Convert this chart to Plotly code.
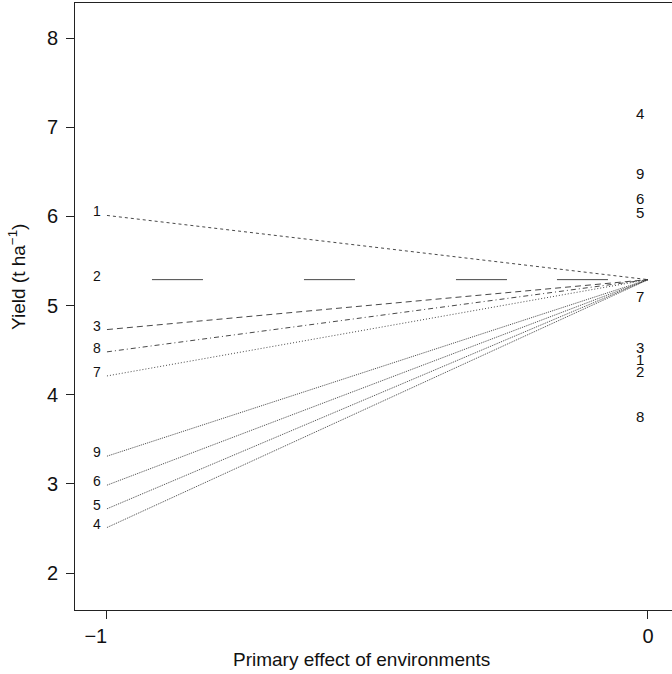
import plotly.graph_objects as go

genotypes = ["1", "2", "3", "4", "5", "6", "7", "8", "9"]
yield_at_minus1 = [6.01, 5.29, 4.73, 2.51, 2.72, 2.985, 4.21, 4.48, 3.31]
yield_at_0 = 5.29
x_points = [-1, 0]
right_labels = ["4", "9", "6", "5", "7", "3", "1", "2", "8"]
right_values = [7.15, 6.48, 6.20, 6.04, 5.10, 4.53, 4.40, 4.26, 3.755]
x_tick_vals = [-1, 0]
x_tick_text = ["\u22121\u2007\u2007", "0"]
y_tick_vals = [2, 3, 4, 5, 6, 7, 8]

dashes = {
    "1": "3px,3px",
    "2": "0px,45px,51px,101px,51px,101px,51px,50px,51px,200px",
    "3": "6px,4px",
    "4": "1px,1px",
    "5": "1px,1px",
    "6": "1px,1px",
    "7": "1px,2px",
    "8": "5px,3px,1px,3px",
    "9": "1px,1px",
}

fig = go.Figure()
for g, y0 in zip(genotypes, yield_at_minus1):
    fig.add_trace(go.Scatter(
        x=x_points, y=[y0, yield_at_0], mode="lines",
        line=dict(color="#333333", width=0.9, dash=dashes[g]),
        showlegend=False, hoverinfo="skip"))

annotations = []
for g, y0 in zip(genotypes, yield_at_minus1):
    annotations.append(dict(x=-1, y=y0, text=g, showarrow=False, xanchor="center",
                            yanchor="middle", xshift=-10, yshift=4,
                            font=dict(size=14, color="#111")))
for g, yv in zip(right_labels, right_values):
    annotations.append(dict(x=0, y=yv, text=g, showarrow=False, xanchor="center",
                            yanchor="middle", xshift=-8,
                            font=dict(size=15, color="#111")))
# axis titles
annotations.append(dict(xref="paper", yref="paper", x=0.4807, y=-0.082,
                        text="Primary effect of environments", showarrow=False,
                        xanchor="center", yanchor="middle", font=dict(size=19, color="#111")))
annotations.append(dict(xref="paper", yref="paper", x=-0.0972, y=0.5486,
                        text="Yield (t ha<sup>\u22121</sup>)", showarrow=False, textangle=-90,
                        xanchor="center", yanchor="middle", font=dict(size=19, color="#111")))

fig.update_layout(
    width=672, height=674,
    margin=dict(l=75, r=0, t=3, b=64),
    plot_bgcolor="white", paper_bgcolor="white",
    font=dict(family="Liberation Sans, Arial, sans-serif", color="#111"),
    annotations=annotations,
    xaxis=dict(range=[-1.0591, 0.0444], tickvals=x_tick_vals, ticktext=x_tick_text,
               automargin=False,
               showgrid=False, zeroline=False, showline=True, mirror=True,
               linecolor="#222", linewidth=1, ticks="outside", ticklen=8,
               tickcolor="#222", tickfont=dict(size=20)),
    yaxis=dict(range=[1.585, 8.3925], tickvals=y_tick_vals,
               automargin=False, ticklabelstandoff=4,
               showgrid=False, zeroline=False, showline=True, mirror=False,
               linecolor="#222", linewidth=1, ticks="outside", ticklen=8,
               tickcolor="#222", tickfont=dict(size=20)),
)

fig.write_html("out.html", config={"displayModeBar": False},
               post_script="document.body.style.margin='0px';")
